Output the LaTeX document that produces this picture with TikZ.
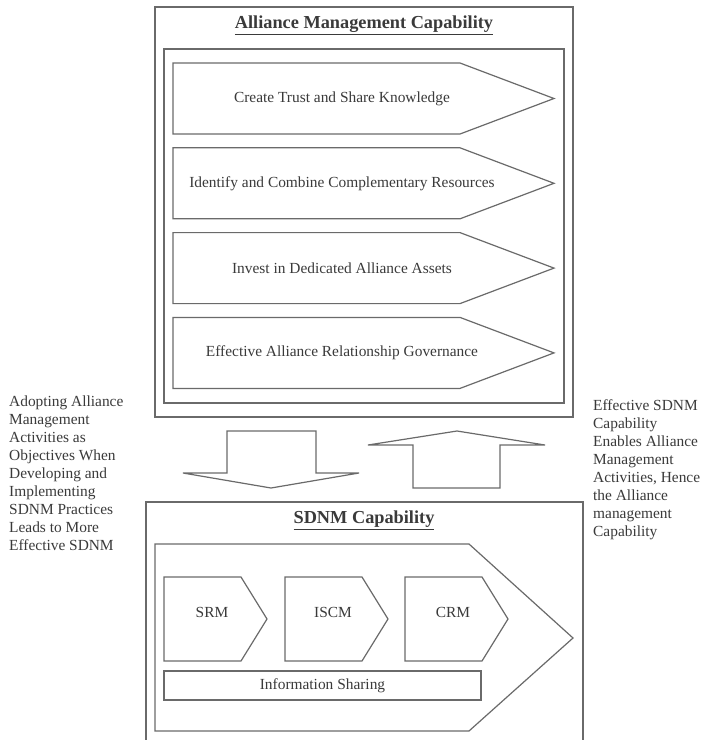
\documentclass[tikz,border=0pt]{standalone}
\usepackage{fontspec}
\setmainfont{Liberation Serif}
\definecolor{linegray}{HTML}{6A6A6A}
\definecolor{textgray}{HTML}{3A3A3A}
\tikzset{
  shapeline/.style={draw=linegray, line width=1.2pt, line join=miter},
  boxline/.style={draw=linegray, line width=1.5pt},
  lbl/.style={text=textgray, font=\fontsize{15.4}{18}\selectfont, inner sep=0pt},
  ttl/.style={text=textgray, font=\fontsize{18.3}{22}\selectfont\bfseries, inner sep=0pt},
  side/.style={lbl, align=left, anchor=north west}
}
\begin{document}
\begin{tikzpicture}[x=1pt,y=-1pt]
\useasboundingbox[fill=white] (0,0) rectangle (704,740);

% ---- Alliance Management Capability ----
\draw[boxline] (155,7) rectangle (573,417);
\draw[shapeline] (164,49) rectangle (564,403);
\node[ttl] (amc) at (364,25) {\underline{Alliance Management Capability}};

\foreach \i/\t in {0/{Create Trust and Share Knowledge},
                   1/{Identify and Combine Complementary Resources},
                   2/{Invest in Dedicated Alliance Assets},
                   3/{Effective Alliance Relationship Governance}}{
  \pgfmathsetmacro{\top}{63+84.8*\i}
  \pgfmathsetmacro{\bot}{\top+71}
  \pgfmathsetmacro{\mid}{\top+35.5}
  \draw[shapeline] (173,\top) -- (460,\top) -- (554,\mid) -- (460,\bot) -- (173,\bot) -- cycle;
  \node[lbl] (act\i) at (342,\mid) {\t};
}

% ---- block arrows between the boxes ----
\draw[shapeline] (227,431) -- (316,431) -- (316,473) -- (359,473) -- (271,488)
  -- (183,473) -- (227,473) -- cycle;
\draw[shapeline] (457,431) -- (545,445) -- (500,445) -- (500,488) -- (413,488)
  -- (413,445) -- (368,445) -- cycle;

% ---- side texts ----
\node[side] (lefttxt) at (9,396) {Adopting Alliance\\Management\\Activities as\\Objectives When\\Developing and\\Implementing\\SDNM Practices\\Leads to More\\Effective SDNM};
\node[side] (righttxt) at (593,399.5) {Effective SDNM\\Capability\\Enables Alliance\\Management\\Activities, Hence\\the Alliance\\management\\Capability};

% ---- SDNM Capability ----
\draw[boxline] (146,741) -- (146,502) -- (583,502) -- (583,741);
\node[ttl] (sdnm) at (364,520) {\underline{SDNM Capability}};
\draw[shapeline] (155,544) -- (469,544) -- (573,638) -- (469,731) -- (155,731) -- cycle;

\foreach \n/\l/\t in {srm/164/SRM, iscm/285/ISCM, crm/405/CRM}{
  \draw[shapeline] (\l,577) -- ({\l+77},577) -- ({\l+103},619) -- ({\l+77},661) -- (\l,661) -- cycle;
  \node[lbl] (\n) at ({\l+48},612) {\t};
}
\draw[shapeline] (164,671) rectangle (481,700);
\node[lbl] (info) at (322.5,686) {Information Sharing};
\end{tikzpicture}
\end{document}
